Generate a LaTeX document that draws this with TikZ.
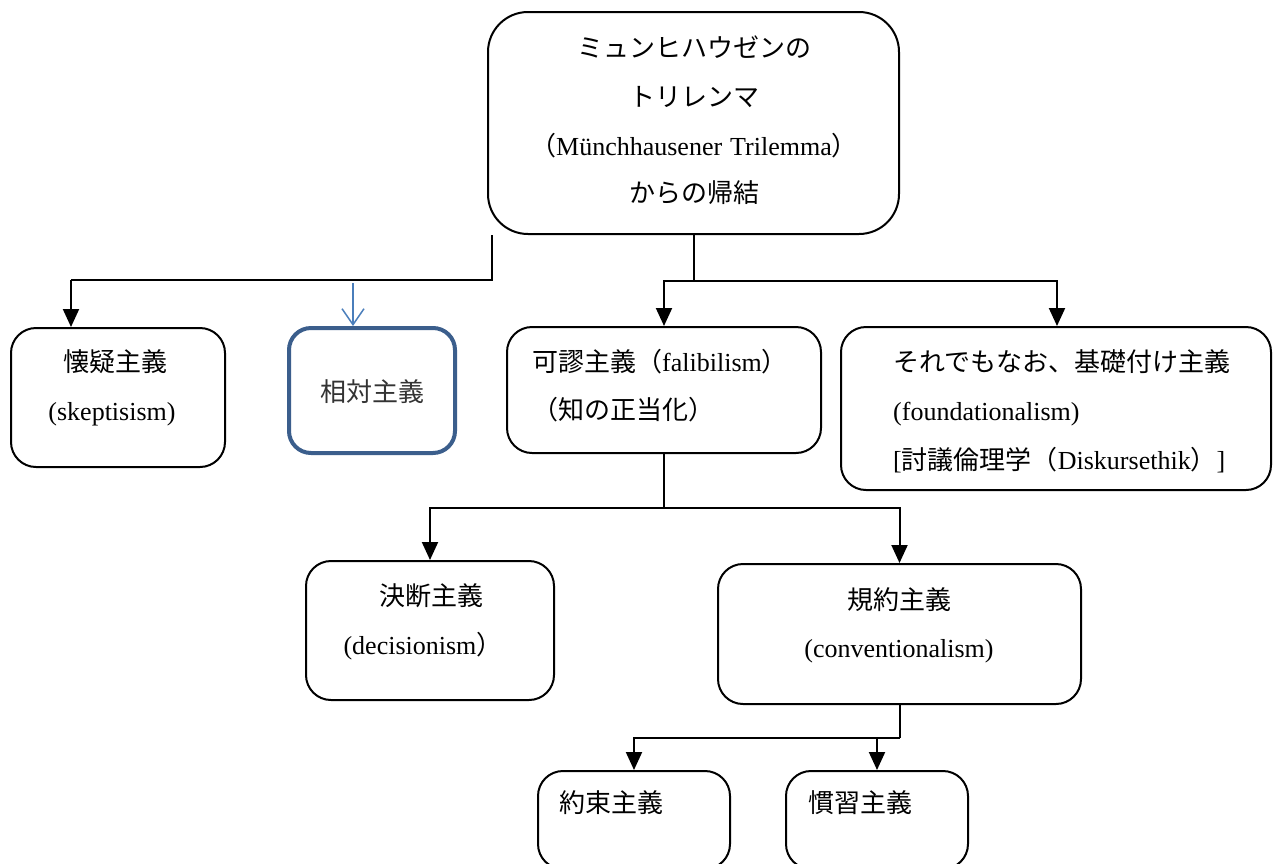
\documentclass[tikz,border=0pt]{standalone}
\usepackage{fontspec}
\setmainfont{Liberation Serif}
\newfontfamily\jpf{Noto Sans CJK JP}
\usetikzlibrary{arrows.meta}
\newcommand\J[1]{{\jpf #1}}
\definecolor{relblue}{HTML}{3B5E8C}
\definecolor{arrblue}{HTML}{4A7EBB}
\tikzset{
  box/.style={draw=black, line width=2pt, rounded corners=25pt, inner sep=0pt},
  bigbox/.style={box, rounded corners=40pt},
  relbox/.style={draw=relblue, line width=4pt, rounded corners=22pt, inner sep=0pt},
  txt/.style={inner sep=0pt, text height=22pt, text depth=4pt, font=\fontsize{26}{30}\selectfont},
  conn/.style={draw=black, line width=2pt},
  arr/.style={conn, -{Triangle[width=16pt,length=18pt]}},
  barr/.style={draw=arrblue, line width=1.5pt, -{Straight Barb[width=22pt,length=16pt,line width=1.5pt]}}
}
\begin{document}
\begin{tikzpicture}[x=1pt,y=-1pt]
\useasboundingbox (0,0) rectangle (1277,863);
\clip (0,0) rectangle (1277,863);
\fill[white] (0,0) rectangle (1277,863);

% boxes
\node[bigbox, minimum width=411pt, minimum height=222pt] (top) at (693.5,123) {};
\node[box, minimum width=214pt, minimum height=139pt] (skep) at (118,397.5) {};
\node[relbox, minimum width=166pt, minimum height=125pt] (rel) at (372,390.5) {};
\node[box, minimum width=314pt, minimum height=126pt] (fal) at (664,390) {};
\node[box, minimum width=430pt, minimum height=163pt] (fnd) at (1056,408.5) {};
\node[box, minimum width=248pt, minimum height=139pt] (dec) at (430,630.5) {};
\node[box, minimum width=363pt, minimum height=140pt] (conv) at (899.5,634) {};
\node[box, minimum width=192pt, minimum height=98pt] (prom) at (634,820) {};
\node[box, minimum width=182pt, minimum height=98pt] (cust) at (877,820) {};

% texts
\node[txt] (t1) at (694,48) {\J{ミュンヒハウゼンの}};
\node[txt] (t2) at (694,97) {\J{トリレンマ}};
\node[txt] (t3) at (694,146) {\J{（}Münchhausener\hspace{8pt}Trilemma\J{）}};
\node[txt] (t4) at (694,193) {\J{からの帰結}};

\node[txt] (s1) at (115,362) {\J{懐疑主義}};
\node[txt] (s2) at (112,411) {(skeptisism)};

\node[txt, text=black!80] (r1) at (372,392) {\J{相対主義}};

\node[txt, anchor=west] (f1) at (532,362) {\J{可謬主義（}falibilism\J{）}};
\node[txt, anchor=west] (f2) at (532,410) {\J{（知の正当化）}};

\node[txt, anchor=west] (n1) at (893,362) {\J{それでもなお、基礎付け主義}};
\node[txt, anchor=west] (n2) at (893,411) {(foundationalism)};
\node[txt, anchor=west] (n3) at (893,460) {[\J{討議倫理学（}Diskursethik\J{）}]};

\node[txt] (d1) at (431,596) {\J{決断主義}};
\node[txt] (d2) at (423,645) {(decisionism\J{）}};

\node[txt] (c1) at (899,600) {\J{規約主義}};
\node[txt] (c2) at (899,648) {(conventionalism)};

\node[txt, anchor=west] (p1) at (559,803) {\J{約束主義}};
\node[txt, anchor=west] (q1) at (808,803) {\J{慣習主義}};

% connectors
\coordinate (lj) at (492,280);
\coordinate (lk) at (71,280);
\draw[conn] (lj |- top.south) -- (lj) -- (lk);
\draw[arr] (lk) -- (lk |- skep.north);

\coordinate (bl) at (353,283);
\draw[barr] (bl) -- (bl |- rel.north);

\coordinate (rj) at (693.5,281);
\draw[conn] (top.south) -- (rj);
\draw[arr] (rj) -| (fal.north);
\draw[arr] (rj) -| ([xshift=1pt]fnd.north);

\coordinate (fj) at (664,508);
\draw[conn] (fal.south) -- (fj);
\draw[arr] (fj) -| (dec.north);
\draw[arr] (fj) -| (conv.north);

\coordinate (cj) at (899.5,738);
\draw[conn] (conv.south) -- (cj);
\draw[arr] (cj) -| (prom.north);
\draw[arr] (cj) -| (cust.north);
\end{tikzpicture}
\end{document}
